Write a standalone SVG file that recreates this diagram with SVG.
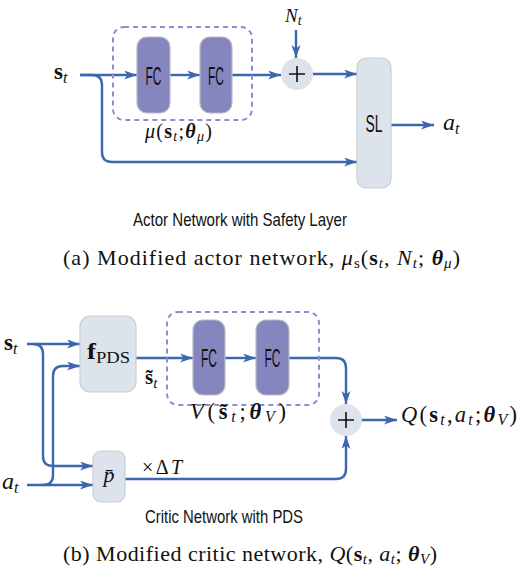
<svg xmlns="http://www.w3.org/2000/svg" width="525" height="577" viewBox="0 0 525 577">
<defs>
<marker id="ah" markerUnits="userSpaceOnUse" markerWidth="14" markerHeight="10" refX="13" refY="4.5" orient="auto">
<path d="M0,0 L13,4.5 L0,9 L3.5,4.5 Z" fill="#3d66b0"/>
</marker>
<style>
.ln{fill:none;stroke:#3d66b0;stroke-width:2.4}
.arr{marker-end:url(#ah)}
.fc{fill:#8686bf;stroke:#b9b9c9;stroke-width:1.2}
.lt{fill:#dce3eb;stroke:#c9ced4;stroke-width:1.2}
.dash{fill:none;stroke:#8c8cd0;stroke-width:2;stroke-dasharray:5,4}
.sans{font-family:"Liberation Sans",Arial,sans-serif;fill:#111}
.m{font-family:"Liberation Serif","DejaVu Serif",serif;fill:#111}
.b{font-weight:bold;font-style:normal}
.i{font-style:italic}
.bi{font-weight:bold;font-style:italic}
</style>
</defs>

<g id="connectors">
<path class="ln arr" d="M80,75 H137"/>
<path class="ln arr" d="M80,75 H92 Q102,75 102,85 V152 Q102,162 112,162 H357"/>
<path class="ln arr" d="M170,75 H200"/>
<path class="ln arr" d="M232,75 H281"/>
<path class="ln arr" d="M296,30 V58"/>
<path class="ln arr" d="M313,74 H357"/>
<path class="ln arr" d="M391,125 H434"/>

<path class="ln arr" d="M27,344 H80"/>
<path class="ln arr" d="M33,344 Q43,344 43,354 V456 Q43,466 53,466 H93"/>
<path class="ln arr" d="M27,485 H93"/>
<path class="ln arr" d="M43,485 Q53,485 53,475 V376 Q53,366 63,366 H80"/>
<path class="ln arr" d="M136,358 H193"/>
<path class="ln arr" d="M225,358 H256"/>
<path class="ln arr" d="M289,358 H336 Q346,358 346,368 V404"/>
<path class="ln arr" d="M125,479 H336 Q346,479 346,469 V436"/>
<path class="ln arr" d="M362,420 H397"/>
</g>

<g id="actor-box">
<rect class="dash" x="113" y="27" width="139" height="93" rx="11"/>
<text class="m" x="145" y="138" font-size="20" textLength="67" lengthAdjust="spacing"><tspan class="i">μ</tspan>(<tspan class="b">s</tspan><tspan class="i" font-size="14" dy="3">t</tspan><tspan dy="-3">;</tspan><tspan class="bi">θ</tspan><tspan class="i" font-size="14" dy="3">μ</tspan><tspan dy="-3">)</tspan></text>
</g>
<g id="fc1"><rect class="fc" x="137" y="37" width="33" height="76" rx="10"/><text class="sans" x="153.5" y="85" font-size="26" text-anchor="middle" textLength="16" lengthAdjust="spacingAndGlyphs">FC</text></g>
<g id="fc2"><rect class="fc" x="200" y="37" width="32" height="76" rx="10"/><text class="sans" x="216" y="85" font-size="26" text-anchor="middle" textLength="16" lengthAdjust="spacingAndGlyphs">FC</text></g>
<g id="plus1"><circle cx="297" cy="74" r="16" fill="#dce3eb"/><path d="M289,74 H305 M297,66 V82" stroke="#111" stroke-width="1.6"/></g>
<g id="sl"><rect class="lt" x="357" y="58" width="34" height="130" rx="9"/><text class="sans" x="374" y="132" font-size="24" text-anchor="middle" textLength="17" lengthAdjust="spacingAndGlyphs">SL</text></g>
<g id="st-top"><text class="m" x="54" y="79" font-size="23"><tspan class="b">s</tspan><tspan class="i" font-size="16" dy="4">t</tspan></text></g>
<g id="nt"><text class="m" x="285" y="22" font-size="19"><tspan class="i">N</tspan><tspan class="i" font-size="14" dy="3">t</tspan></text></g>
<g id="at-top"><text class="m" x="443" y="130" font-size="24"><tspan class="i">a</tspan><tspan class="i" font-size="16" dy="4">t</tspan></text></g>
<text class="sans" x="133" y="226" font-size="19" textLength="214" lengthAdjust="spacingAndGlyphs">Actor Network with Safety Layer</text>
<text class="m" x="63" y="265" font-size="22" textLength="397" lengthAdjust="spacing">(a) Modified actor network, <tspan class="i">μ</tspan><tspan font-size="15" dy="3">s</tspan><tspan dy="-3">(</tspan><tspan class="b">s</tspan><tspan class="i" font-size="15" dy="3">t</tspan><tspan dy="-3">, </tspan><tspan class="i">N</tspan><tspan class="i" font-size="15" dy="3">t</tspan><tspan dy="-3">; </tspan><tspan class="bi">θ</tspan><tspan class="i" font-size="15" dy="3">μ</tspan><tspan dy="-3">)</tspan></text>

<g id="st-bot"><text class="m" x="4" y="350" font-size="23"><tspan class="b">s</tspan><tspan class="i" font-size="16" dy="4">t</tspan></text></g>
<g id="at-bot"><text class="m" x="2" y="489" font-size="24"><tspan class="i">a</tspan><tspan class="i" font-size="16" dy="4">t</tspan></text></g>
<g id="fpds"><rect class="lt" x="80" y="316" width="56" height="76" rx="10"/><text class="m" x="87" y="359" font-size="23" textLength="43" lengthAdjust="spacingAndGlyphs"><tspan class="b">f</tspan><tspan font-size="16" dy="4">PDS</tspan></text></g>
<text class="m" x="145" y="384" font-size="21"><tspan class="b">s̃</tspan><tspan class="i" font-size="15" dy="4">t</tspan></text>
<g id="critic-box">
<rect class="dash" x="167" y="312" width="152" height="93" rx="11"/>
<text class="m" x="190" y="419" font-size="22.5" textLength="96" lengthAdjust="spacing"><tspan class="i">V</tspan>(<tspan class="b">s̃</tspan><tspan class="i" font-size="16" dy="3">t</tspan><tspan dy="-3">;</tspan><tspan class="bi">θ</tspan><tspan class="i" font-size="16" dy="3">V</tspan><tspan dy="-3">)</tspan></text>
</g>
<g id="fc3"><rect class="fc" x="193" y="320" width="32" height="75" rx="10"/><text class="sans" x="209" y="367" font-size="26" text-anchor="middle" textLength="16" lengthAdjust="spacingAndGlyphs">FC</text></g>
<g id="fc4"><rect class="fc" x="256" y="320" width="33" height="75" rx="10"/><text class="sans" x="272.5" y="367" font-size="26" text-anchor="middle" textLength="16" lengthAdjust="spacingAndGlyphs">FC</text></g>
<g id="pbar"><rect class="lt" x="93" y="451" width="32" height="51" rx="8"/><text class="m i" x="109" y="482" font-size="22" text-anchor="middle">p̄</text></g>
<text class="m" x="142" y="474" font-size="20" textLength="40" lengthAdjust="spacing">×Δ<tspan class="i">T</tspan></text>
<g id="q"><text class="m" x="401" y="422" font-size="22.5" textLength="116" lengthAdjust="spacing"><tspan class="i">Q</tspan>(<tspan class="b">s</tspan><tspan class="i" font-size="16" dy="3">t</tspan><tspan dy="-3">,</tspan><tspan class="i">a</tspan><tspan class="i" font-size="16" dy="3">t</tspan><tspan dy="-3">;</tspan><tspan class="bi">θ</tspan><tspan class="i" font-size="16" dy="3">V</tspan><tspan dy="-3">)</tspan></text></g>
<g id="plus2"><circle cx="346" cy="420" r="16" fill="#dce3eb"/><path d="M338,420 H354 M346,412 V428" stroke="#111" stroke-width="1.6"/></g>
<text class="sans" x="145" y="523" font-size="19" textLength="158" lengthAdjust="spacingAndGlyphs">Critic Network with PDS</text>
<text class="m" x="63" y="561" font-size="22" textLength="374" lengthAdjust="spacing">(b) Modified critic network, <tspan class="i">Q</tspan>(<tspan class="b">s</tspan><tspan class="i" font-size="15" dy="3">t</tspan><tspan dy="-3">, </tspan><tspan class="i">a</tspan><tspan class="i" font-size="15" dy="3">t</tspan><tspan dy="-3">; </tspan><tspan class="bi">θ</tspan><tspan class="i" font-size="15" dy="3">V</tspan><tspan dy="-3">)</tspan></text>
</svg>
